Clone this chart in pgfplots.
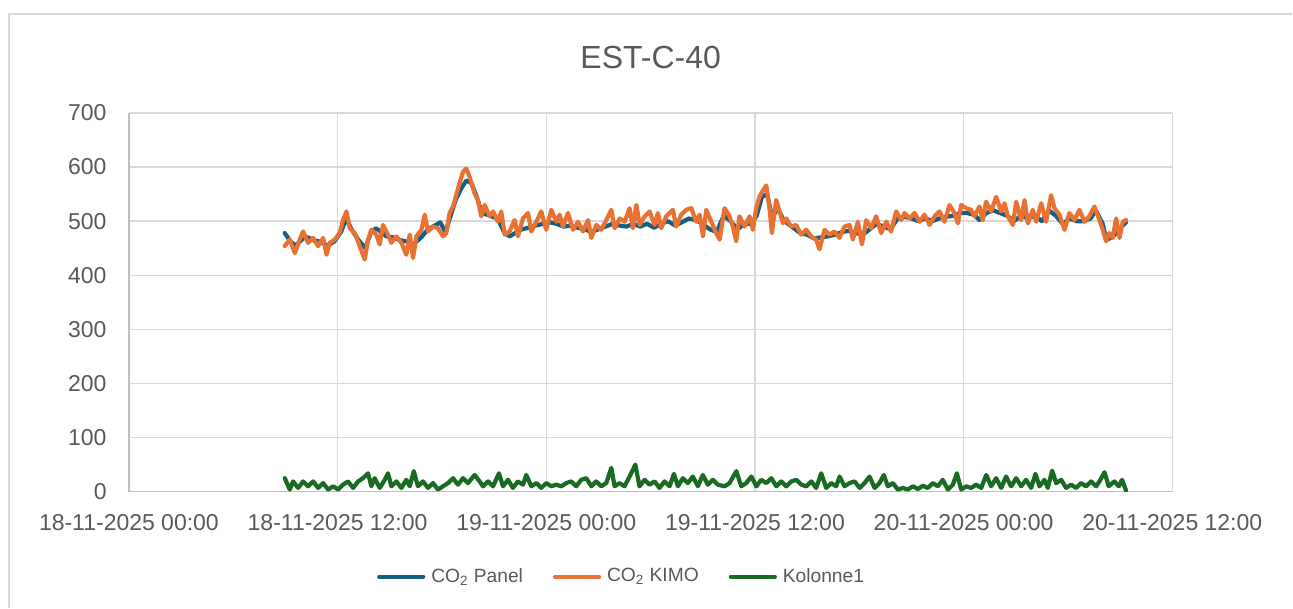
\documentclass[border=0pt]{standalone}
\usepackage{fontspec}
\setmainfont{Liberation Sans}
\usepackage{pgfplots}
\pgfplotsset{compat=1.18}

\definecolor{panel}{HTML}{156082}
\definecolor{kimo}{HTML}{E97132}
\definecolor{kol}{HTML}{196B24}
\definecolor{txt}{HTML}{595959}
\definecolor{gridc}{HTML}{D9D9D9}
\definecolor{axc}{HTML}{BFBFBF}

\begin{document}
\begin{tikzpicture}
  % page frame, 1 px = 0.5pt
  \fill[white] (-64.5pt,-58pt) rectangle (582pt,246pt);
  \draw[gridc, line width=0.75pt] (-60pt,-58pt) -- (-60pt,239pt) -- (582pt,239pt);

  \begin{axis}[
      name=ax, at={(0,0)}, anchor=south west,
      scale only axis, width=522pt, height=189.5pt,
      xmin=0, xmax=60, ymin=0, ymax=700,
      xtick={0,12,24,36,48,60},
      xticklabels={18-11-2025 00:00, 18-11-2025 12:00, 19-11-2025 00:00,
                   19-11-2025 12:00, 20-11-2025 00:00, 20-11-2025 12:00},
      ytick={0,100,...,700},
      axis lines*=left,
      axis line style={draw=axc, line width=0.75pt},
      grid=major,
      grid style={draw=gridc, line width=0.75pt},
      major tick length=0pt,
      /pgf/number format/assume math mode=true,
      tick label style={font=\fontsize{11.5}{13}\selectfont, text=txt, inner sep=0pt},
      yticklabel style={anchor=east, xshift=-11pt},
      xticklabel style={anchor=base, yshift=-19.25pt},
      legend columns=3,
      legend style={at={(0.2375,-0.2243)}, anchor=west, draw=none, fill=none,
        inner sep=0pt, nodes={inner sep=0pt, text=txt},
        font=\fontsize{9.6}{11}\selectfont,
        /tikz/every odd column/.append style={column sep=3pt},
        /tikz/every even column/.append style={column sep=15pt}},
      legend image code/.code={\draw[#1] (0pt,0pt) -- (22pt,0pt);},
      every axis plot/.append style={line width=2.1pt, line join=round, line cap=round},
    ]

    % CO2 Panel
    \addplot[panel] table {
      x y
      8.96 478
      9.30 462
      9.60 455
      10.00 468
      10.30 470
      10.60 465
      11.00 462
      11.40 455
      11.80 462
      12.20 480
      12.50 505
      12.80 485
      13.20 465
      13.60 450
      13.90 478
      14.20 487
      14.50 480
      14.80 472
      15.20 470
      15.60 465
      16.00 462
      16.40 458
      16.80 470
      17.20 485
      17.60 492
      17.90 498
      18.20 480
      18.50 510
      18.80 540
      19.10 560
      19.40 575
      19.70 570
      20.00 545
      20.30 515
      20.60 512
      20.90 508
      21.20 505
      21.60 478
      21.90 472
      22.20 478
      22.60 485
      23.00 488
      23.40 492
      23.80 495
      24.20 498
      24.60 495
      25.00 490
      25.40 492
      25.80 488
      26.20 485
      26.60 480
      27.00 485
      27.40 490
      27.80 495
      28.20 492
      28.60 490
      29.00 495
      29.40 490
      29.80 495
      30.20 488
      30.60 495
      31.00 500
      31.40 492
      31.80 498
      32.20 505
      32.60 502
      33.00 495
      33.40 485
      33.80 480
      34.20 510
      34.60 500
      35.00 485
      35.40 495
      35.80 495
      36.10 510
      36.40 545
      36.70 550
      37.00 505
      37.30 525
      37.60 505
      37.90 495
      38.20 488
      38.60 478
      39.00 475
      39.40 468
      39.80 470
      40.20 472
      40.60 475
      41.00 480
      41.40 482
      41.80 478
      42.20 475
      42.60 485
      43.00 495
      43.40 490
      43.80 485
      44.20 505
      44.60 508
      45.00 505
      45.40 500
      45.80 505
      46.20 500
      46.60 505
      47.00 508
      47.40 510
      47.80 515
      48.20 515
      48.60 512
      48.90 502
      49.30 515
      49.70 520
      50.10 515
      50.50 510
      50.90 500
      51.30 510
      51.70 505
      52.10 510
      52.50 500
      52.90 520
      53.30 510
      53.70 495
      54.10 505
      54.50 500
      54.90 500
      55.30 505
      55.60 520
      56.00 495
      56.20 465
      56.50 470
      56.80 478
      57.10 490
      57.34 498
    };
    \addlegendentry{CO\textsubscript{2} Panel}

    % CO2 KIMO
    \addplot[kimo] table {
      x y
      8.96 454
      9.25 466
      9.54 441
      9.82 466
      10.02 481
      10.30 460
      10.59 469
      10.88 454
      11.17 469
      11.36 438
      11.55 460
      11.84 466
      12.12 478
      12.31 502
      12.51 518
      12.70 487
      12.99 478
      13.27 454
      13.56 429
      13.75 466
      13.94 484
      14.23 475
      14.42 457
      14.61 493
      14.90 475
      15.09 460
      15.38 472
      15.67 460
      15.95 438
      16.15 475
      16.34 432
      16.53 472
      16.82 484
      17.01 512
      17.20 481
      17.49 490
      17.77 487
      18.06 472
      18.25 478
      18.44 515
      18.64 527
      18.92 560
      19.21 591
      19.40 597
      19.59 582
      19.88 551
      20.07 539
      20.26 509
      20.46 530
      20.74 509
      20.94 518
      21.22 499
      21.41 518
      21.61 475
      21.89 481
      22.18 502
      22.37 472
      22.66 505
      22.95 515
      23.14 481
      23.43 499
      23.71 518
      24.00 484
      24.29 521
      24.58 499
      24.77 512
      24.96 490
      25.25 515
      25.54 484
      25.82 499
      26.11 481
      26.40 502
      26.59 469
      26.88 493
      27.16 484
      27.45 502
      27.74 521
      27.93 487
      28.22 505
      28.51 499
      28.79 524
      28.98 487
      29.18 530
      29.37 493
      29.66 509
      29.94 518
      30.23 493
      30.42 515
      30.61 487
      30.90 509
      31.28 521
      31.47 490
      31.76 512
      32.05 521
      32.34 524
      32.62 499
      32.82 512
      33.01 472
      33.20 521
      33.49 499
      33.77 478
      33.97 466
      34.25 524
      34.54 509
      34.73 490
      34.92 463
      35.11 509
      35.40 490
      35.69 509
      35.88 484
      36.07 524
      36.26 545
      36.46 557
      36.65 566
      36.84 524
      36.97 478
      37.22 539
      37.41 518
      37.61 496
      37.80 505
      38.08 490
      38.37 493
      38.66 475
      38.95 484
      39.23 472
      39.52 466
      39.71 448
      40.00 484
      40.29 475
      40.57 481
      40.86 469
      41.15 490
      41.44 493
      41.63 466
      41.92 499
      42.15 457
      42.40 502
      42.69 487
      42.97 509
      43.26 478
      43.55 499
      43.83 481
      44.12 518
      44.41 502
      44.60 515
      44.89 505
      45.18 515
      45.46 499
      45.75 512
      46.04 493
      46.33 509
      46.61 518
      46.90 499
      47.19 530
      47.47 515
      47.67 496
      47.86 530
      48.14 524
      48.43 521
      48.62 509
      48.91 527
      49.10 502
      49.29 536
      49.58 518
      49.87 545
      50.16 518
      50.35 533
      50.54 509
      50.83 493
      51.02 536
      51.31 502
      51.50 539
      51.69 496
      51.98 521
      52.17 499
      52.46 533
      52.74 499
      53.03 548
      53.22 524
      53.51 512
      53.80 484
      54.08 515
      54.37 502
      54.66 521
      54.95 499
      55.23 509
      55.52 527
      55.81 502
      56.00 484
      56.19 463
      56.38 478
      56.57 469
      56.77 505
      56.96 469
      57.15 499
      57.34 502
    };
    \addlegendentry{CO\textsubscript{2} KIMO}

    % Kolonne1
    \addplot[kol] table {
      x y
      8.96 25
      9.25 4
      9.44 19
      9.73 7
      10.02 19
      10.30 10
      10.59 19
      10.88 7
      11.17 16
      11.45 4
      11.74 10
      12.03 4
      12.31 13
      12.60 19
      12.89 7
      13.18 19
      13.46 25
      13.75 34
      13.94 10
      14.13 25
      14.42 7
      14.71 22
      14.90 34
      15.09 10
      15.38 19
      15.67 7
      15.95 22
      16.15 10
      16.38 38
      16.62 10
      16.91 19
      17.20 7
      17.49 16
      17.77 4
      18.06 10
      18.35 16
      18.64 25
      18.92 13
      19.21 25
      19.50 16
      19.88 31
      20.17 19
      20.36 10
      20.65 19
      20.94 10
      21.28 34
      21.51 10
      21.80 22
      22.08 7
      22.37 19
      22.66 13
      22.85 31
      23.14 10
      23.43 16
      23.71 7
      24.00 16
      24.29 10
      24.58 13
      24.86 10
      25.15 16
      25.44 19
      25.72 10
      26.01 22
      26.30 25
      26.59 10
      26.87 19
      27.16 10
      27.45 16
      27.74 44
      27.93 10
      28.21 16
      28.50 10
      28.79 28
      29.12 50
      29.36 10
      29.65 22
      29.94 13
      30.23 19
      30.51 7
      30.80 19
      31.09 10
      31.34 33
      31.57 10
      31.85 25
      32.14 16
      32.43 28
      32.72 10
      33.00 31
      33.29 13
      33.58 22
      33.87 13
      34.26 10
      34.54 16
      34.93 38
      35.21 10
      35.50 16
      35.79 28
      36.08 10
      36.36 22
      36.65 16
      36.94 25
      37.23 10
      37.51 19
      37.80 10
      38.09 19
      38.38 22
      38.66 13
      38.95 10
      39.24 19
      39.52 7
      39.81 34
      40.10 7
      40.39 16
      40.67 10
      40.87 28
      41.15 10
      41.44 16
      41.73 19
      42.02 7
      42.30 16
      42.59 28
      42.88 7
      43.16 16
      43.41 31
      43.64 10
      43.93 16
      44.22 4
      44.51 7
      44.79 4
      45.08 10
      45.37 5
      45.66 11
      45.94 7
      46.23 16
      46.52 10
      46.80 22
      47.09 4
      47.38 13
      47.61 34
      47.86 4
      48.15 10
      48.43 7
      48.72 13
      49.01 7
      49.30 31
      49.58 10
      49.87 25
      50.16 7
      50.44 28
      50.73 10
      51.02 25
      51.31 10
      51.59 22
      51.88 7
      52.13 33
      52.36 10
      52.65 22
      52.84 7
      53.09 39
      53.32 16
      53.61 22
      53.89 7
      54.18 13
      54.47 7
      54.75 16
      55.04 10
      55.33 19
      55.62 10
      55.81 19
      56.10 36
      56.34 10
      56.67 19
      56.92 10
      57.11 22
      57.34 2
    };
    \addlegendentry{Kolonne1}
  \end{axis}

  \node[text=txt, font=\fontsize{16}{19}\selectfont] at (261pt,217pt) {EST-C-40};
\end{tikzpicture}
\end{document}
